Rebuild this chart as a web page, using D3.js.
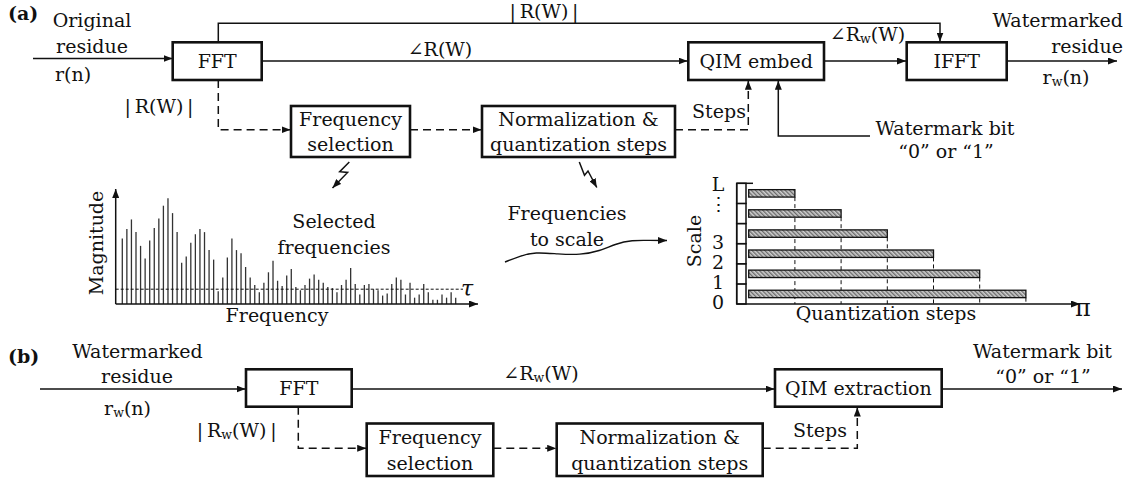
<!DOCTYPE html>
<html>
<head>
<meta charset="utf-8">
<script src="https://cdn.jsdelivr.net/npm/d3@7"></script>
<style>
  html, body { margin: 0; padding: 0; background: #fff; }
  svg text { font-family: "DejaVu Serif", serif; fill: #111; }
</style>
</head>
<body>
<svg id="fig" width="1134" height="479"></svg>
<script>
// FFT magnitude spectrum (arbitrary units, 0-100) of the residue, one value per bin
const spectrumMagnitudes = [
  62, 71, 80, 68, 55, 43, 60, 72, 81, 93,
  100, 86, 68, 39, 45, 58, 66, 71, 68, 51,
  42, 12, 25, 44, 62, 51, 48, 35, 25, 18,
  11, 20, 30, 41, 22, 17, 27, 33, 16, 13,
  18, 24, 28, 23, 20, 16, 15, 11, 18, 23,
  34, 19, 9, 18, 19, 14, 13, 8, 10, 19,
  25, 23, 9, 20, 6, 9, 19, 11, 4, 4,
  9, 6, 11, 6
];
// magnitude threshold used to select frequencies
const selectionThreshold = 14;
// scale levels (bottom to top) and their quantization steps (multiples of the base step)
const scaleLevels = ["0", "1", "2", "3", "⋮", "L"];
const quantizationSteps = [6, 5, 4, 3, 2, 1];

const svg = d3.select("#fig");
svg.append("rect").attr("width", 1134).attr("height", 479).attr("fill", "#fff");

const defs = svg.append("defs");
defs.append("marker")
  .attr("id", "arrow").attr("viewBox", "0 0 10 10")
  .attr("refX", 10).attr("refY", 5)
  .attr("markerWidth", 9).attr("markerHeight", 7)
  .attr("markerUnits", "userSpaceOnUse")
  .attr("preserveAspectRatio", "none")
  .attr("orient", "auto")
  .append("path").attr("d", "M0,0L10,5L0,10Z").attr("fill", "#111");

const hatch = defs.append("pattern")
  .attr("id", "hatch").attr("patternUnits", "userSpaceOnUse")
  .attr("width", 3).attr("height", 3)
  .attr("patternTransform", "rotate(-45)");
hatch.append("rect").attr("width", 3).attr("height", 3).attr("fill", "#cfcfcf");
hatch.append("line").attr("x1", 0.7).attr("y1", 0).attr("x2", 0.7).attr("y2", 3)
  .attr("stroke", "#666").attr("stroke-width", 1.3);

const FS = 19;
const MID = 6.8; // baseline offset that centres a line of text on a y value

// ---------- helpers ----------
function text(g, str, x, y, anchor = "middle", size = FS, extra = {}) {
  const t = g.append("text").attr("x", x).attr("y", y)
    .attr("text-anchor", anchor).attr("font-size", size).text(str);
  Object.entries(extra).forEach(([k, v]) => t.attr(k, v));
  return t;
}

// text made of parts; parts with sub:true are drawn as small subscripts
function richText(g, parts, x, y, anchor = "middle", size = FS) {
  const t = g.append("text").attr("x", x).attr("y", y)
    .attr("text-anchor", anchor).attr("font-size", size);
  parts.forEach(p => {
    const s = t.append("tspan").text(p.t);
    if (p.sub) s.attr("font-size", size * 0.66).attr("dy", 2);
    else if (p.after) s.attr("dy", -2);
  });
  return t;
}

function box(g, x0, y0, x1, y1, lines, lineGap = 25) {
  g.append("rect").attr("x", x0).attr("y", y0)
    .attr("width", x1 - x0).attr("height", y1 - y0)
    .attr("fill", "#fff").attr("stroke", "#111").attr("stroke-width", 2.6);
  const cx = (x0 + x1) / 2, cy = (y0 + y1) / 2;
  const n = lines.length;
  lines.forEach((l, i) => {
    text(g, l, cx, cy + (i - (n - 1) / 2) * lineGap + MID);
  });
}

function wire(g, pts, { dashed = false, arrow = true } = {}) {
  const p = g.append("path").attr("d", d3.line()(pts))
    .attr("fill", "none").attr("stroke", "#111").attr("stroke-width", 1.5);
  if (dashed) p.attr("stroke-dasharray", "8,5");
  if (arrow) p.attr("marker-end", "url(#arrow)");
  return p;
}

const gA = svg.append("g");
const gB = svg.append("g");

// ================= (a) embedding =================
text(gA, "(a)", 8, 19.5, "start", 19, { "font-weight": "bold" });
text(gA, "Original", 92, 27);
text(gA, "residue", 92, 53);
text(gA, "r(n)", 55, 81, "start");
wire(gA, [[33, 58.5], [172.5, 58.5]]);

box(gA, 172.7, 42.3, 261.7, 80, ["FFT"]);
box(gA, 688.3, 42.3, 824, 80, ["QIM embed"]);
box(gA, 906.7, 42.3, 1006.7, 80, ["IFFT"]);

// magnitude bypass over the top
wire(gA, [[218.3, 42.3], [218.3, 23.3], [940, 23.3], [940, 41.5]]);
text(gA, "|\u2009R(W)\u2009|", 544, 17.5);

// phase path
wire(gA, [[261.7, 61], [687.5, 61]]);
text(gA, "∠R(W)", 440, 55.5);
wire(gA, [[824, 61], [906, 61]]);
richText(gA, [{ t: "∠R" }, { t: "w", sub: true }, { t: "(W)", after: true }], 867.5, 40.5);
wire(gA, [[1006.7, 61], [1117, 61]]);
text(gA, "Watermarked", 1123, 27, "end");
text(gA, "residue", 1123, 53, "end");
richText(gA, [{ t: "r" }, { t: "w", sub: true }, { t: "(n)", after: true }], 1066, 84);

// magnitude analysis branch
text(gA, "|\u2009R(W)\u2009|", 159, 112.5);
wire(gA, [[218.3, 80], [218.3, 129.7], [290.5, 129.7]], { dashed: true });
box(gA, 291, 106, 410, 157, ["Frequency", "selection"]);
wire(gA, [[410, 129.7], [481.5, 129.7]], { dashed: true });
box(gA, 482, 106, 675, 157, ["Normalization &", "quantization steps"]);
wire(gA, [[675, 129.7], [748.3, 129.7], [748.3, 80.8]], { dashed: true });
text(gA, "Steps", 719, 117.5);

// watermark bit input
wire(gA, [[870, 136], [778.3, 136], [778.3, 80.8]]);
text(gA, "Watermark bit", 945, 134.5);
text(gA, "\u201C0\u201D or \u201C1\u201D", 946, 157.5);

// lightning pointers from the two analysis blocks
wire(gA, [[349.3, 162], [339.7, 171.7], [347.6, 172.4], [332.5, 188]]);
wire(gA, [[579.3, 162], [584.5, 175.2], [588, 171], [596.8, 187.5]]);

text(gA, "Selected", 334, 228);
text(gA, "frequencies", 334, 253.5);
text(gA, "Frequencies", 567, 220);
text(gA, "to scale", 567, 246);

// wavy pointer to the scale chart
gA.append("path")
  .attr("d", d3.line().curve(d3.curveBasis)([
    [505, 262], [520, 256], [535, 252], [558, 254], [580, 255],
    [600, 251], [615, 244], [632, 240], [650, 240.5], [667, 240.5]
  ]))
  .attr("fill", "none").attr("stroke", "#111").attr("stroke-width", 1.4)
  .attr("marker-end", "url(#arrow)");

// ---------- magnitude spectrum ----------
const spec = gA.append("g");
const sx = d3.scalePoint().domain(d3.range(spectrumMagnitudes.length)).range([122.3, 455.7]);
const sy = d3.scaleLinear().domain([0, 100]).range([304, 198.3]);

spec.selectAll("line.bin").data(spectrumMagnitudes).join("line")
  .attr("class", "bin")
  .attr("x1", (d, i) => sx(i)).attr("x2", (d, i) => sx(i))
  .attr("y1", sy(0)).attr("y2", d => sy(d))
  .attr("stroke", "#333").attr("stroke-width", 1.3);

spec.append("line")
  .attr("x1", 115.7).attr("x2", 463)
  .attr("y1", sy(selectionThreshold)).attr("y2", sy(selectionThreshold))
  .attr("stroke", "#111").attr("stroke-width", 1).attr("stroke-dasharray", "3,2");

wire(spec, [[115.7, 304], [115.7, 189]]);
wire(spec, [[115.7, 304], [478, 304]]);
text(spec, "Magnitude", 0, 0, "middle", FS, { transform: "translate(103,243) rotate(-90)" });
text(spec, "Frequency", 277, 321.5);
text(spec, "τ", 467, 296, "middle", 22, { "font-style": "italic", "font-family": "Liberation Serif" });

// ---------- quantization steps per scale ----------
const qs = gA.append("g");
const qx = d3.scaleLinear().domain([0, 1]).range([748.7, 794.9]);
const qy = d3.scaleBand().domain(scaleLevels).range([304, 183.3])
  .paddingInner(0.63).paddingOuter(0.315);
const step = qy.step();
const cellTop = d => qy(d) - (step - qy.bandwidth()) / 2;

// ladder of scale cells
qs.selectAll("rect.cell").data(scaleLevels).join("rect")
  .attr("class", "cell")
  .attr("x", 736.7).attr("width", 9.3)
  .attr("y", d => cellTop(d)).attr("height", step)
  .attr("fill", "#fff").attr("stroke", "#111").attr("stroke-width", 1.5);
qs.append("line").attr("x1", 736.7).attr("x2", 753).attr("y1", 183.3).attr("y2", 183.3)
  .attr("stroke", "#111").attr("stroke-width", 1.5);

// guide lines down to the axis
qs.selectAll("line.guide").data(scaleLevels).join("line")
  .attr("class", "guide")
  .attr("x1", (d, i) => qx(quantizationSteps[i])).attr("x2", (d, i) => qx(quantizationSteps[i]))
  .attr("y1", d => qy(d) + qy.bandwidth()).attr("y2", 304)
  .attr("stroke", "#111").attr("stroke-width", 1).attr("stroke-dasharray", "4,3");

qs.selectAll("rect.bar").data(scaleLevels).join("rect")
  .attr("class", "bar")
  .attr("x", qx(0)).attr("y", d => qy(d))
  .attr("width", (d, i) => qx(quantizationSteps[i]) - qx(0))
  .attr("height", qy.bandwidth())
  .attr("fill", "url(#hatch)").attr("stroke", "#111").attr("stroke-width", 1.3);

wire(qs, [[736.7, 304], [1080, 304]]);
qs.append("line").attr("x1", 736.7).attr("x2", 736.7).attr("y1", 183.3).attr("y2", 304)
  .attr("stroke", "#111").attr("stroke-width", 1.5);

// level labels on the ladder
const labelY = d3.scaleLinear().domain([0, 5.9]).range([302, 184]);
const labelPos = [0, 1, 2, 3, 4.9, 5.9];
scaleLevels.forEach((lv, i) => {
  text(qs, lv, 718, labelY(labelPos[i]) + MID);
});
text(qs, "Scale", 0, 0, "middle", FS, { transform: "translate(701,241) rotate(-90)" });
text(qs, "Quantization steps", 886, 319.5);
text(qs, "π", 1083, 316, "middle", 24, { "font-family": "Liberation Serif" });

// ================= (b) extraction =================
text(gB, "(b)", 8, 363, "start", 19, { "font-weight": "bold" });
text(gB, "Watermarked", 137.5, 358);
text(gB, "residue", 137, 383);
richText(gB, [{ t: "r" }, { t: "w", sub: true }, { t: "(n)", after: true }], 127.5, 415);
wire(gB, [[40, 389], [245.5, 389]]);

box(gB, 246, 369.3, 351.7, 406.7, ["FFT"]);
box(gB, 775, 369.3, 941.7, 406.7, ["QIM extraction"]);

wire(gB, [[351.7, 389], [774.5, 389]]);
richText(gB, [{ t: "∠R" }, { t: "w", sub: true }, { t: "(W)", after: true }], 541, 380);
wire(gB, [[941.7, 389], [1122, 389]]);
text(gB, "Watermark bit", 1042.5, 358);
text(gB, "\u201C0\u201D or \u201C1\u201D", 1043, 383);

richText(gB, [{ t: "|\u2009R" }, { t: "w", sub: true }, { t: "(W)\u2009|", after: true }], 236.7, 436.5);
wire(gB, [[298.3, 406.7], [298.3, 448.3], [366.2, 448.3]], { dashed: true });
box(gB, 366.7, 423.5, 493.3, 476, ["Frequency", "selection"], 26);
wire(gB, [[493.3, 448.3], [556.2, 448.3]], { dashed: true });
box(gB, 556.7, 423.5, 762.7, 476, ["Normalization &", "quantization steps"], 26);
wire(gB, [[762.7, 448.3], [857.3, 448.3], [857.3, 407.5]], { dashed: true });
text(gB, "Steps", 820, 436.5);
</script>
</body>
</html>
